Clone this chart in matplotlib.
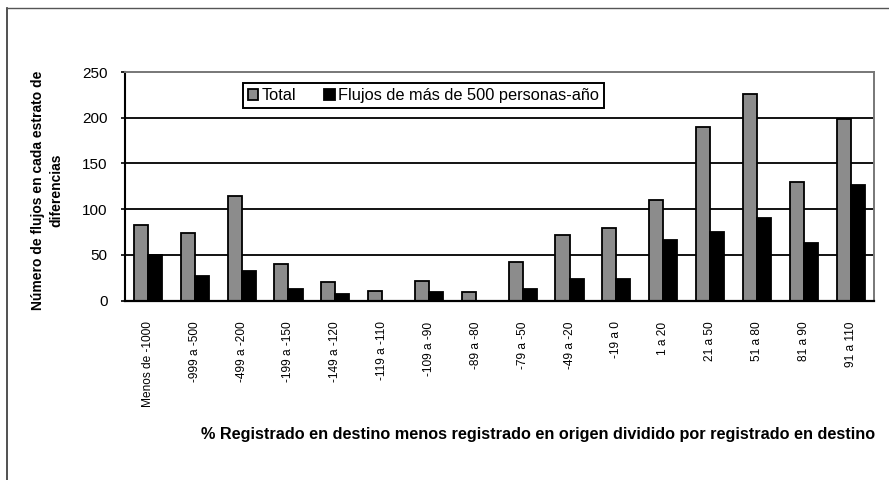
import matplotlib
matplotlib.use("Agg")
import matplotlib.pyplot as plt
from matplotlib.lines import Line2D
import numpy as np

categories = ["Menos de -1000", "-999 a -500", "-499 a -200", "-199 a -150",
              "-149 a -120", "-119 a -110", "-109 a -90", "-89 a -80",
              "-79 a -50", "-49 a -20", "-19 a 0", "1 a 20", "21 a 50",
              "51 a 80", "81 a 90", "91 a 110"]
total = [83, 74, 114, 40, 20, 11, 22, 9, 42, 72, 79, 110, 190, 226, 130, 199]
flujos500 = [50, 27, 33, 13, 7, 0, 9, 0, 13, 24, 24, 66, 75, 90, 63, 126]
yticks = [0, 50, 100, 150, 200, 250]

plt.rcParams['font.family'] = ['Liberation Sans', 'DejaVu Sans']

fig = plt.figure(figsize=(8.89, 4.80), dpi=100)
ax = fig.add_axes([124.5 / 889, 1 - 300.7 / 480, 749.5 / 889, 228.7 / 480])

x = np.arange(len(categories))
w = 0.3
ax.bar(x - w / 2, total, width=w, color="#8c8c8c", edgecolor="black",
       linewidth=1.3, zorder=3, label="Total")
ax.bar(x + w / 2, flujos500, width=w, color="black", edgecolor="black",
       linewidth=1.3, zorder=3, label="Flujos de más de 500 personas-año")

ax.set_xlim(-0.5, len(categories) - 0.5)
ax.set_ylim(0, 250)
ax.set_yticks(yticks)
for v in yticks[1:-1]:
    ax.axhline(v, color="black", linewidth=1.3, zorder=1)

ax.set_xticks(x)
ax.set_xticklabels(categories, rotation=90, fontsize=8.6, va="top", ha="center")
ax.tick_params(axis="x", length=0, pad=15)
ax.tick_params(axis="y", length=3, pad=9, labelsize=11, width=1.2)

ax.spines["left"].set_color("black")
ax.spines["left"].set_linewidth(1.5)
ax.spines["bottom"].set_color("black")
ax.spines["bottom"].set_linewidth(1.6)
ax.spines["top"].set_color("#777777")
ax.spines["top"].set_linewidth(1.4)
ax.spines["right"].set_color("#777777")
ax.spines["right"].set_linewidth(1.4)
ax.spines["bottom"].set_zorder(4)

leg = ax.legend(loc="upper left", bbox_to_anchor=(0.158, 0.951), ncol=2,
                frameon=True, fancybox=False, fontsize=11.8,
                handlelength=0.65, handleheight=0.65, handletextpad=0.2,
                columnspacing=1.7, borderpad=0.3, borderaxespad=0)
leg.get_frame().set_edgecolor("black")
leg.get_frame().set_linewidth(1.4)
leg.get_frame().set_alpha(1)

fig.text(538 / 889, 1 - 435 / 480,
         "% Registrado en destino menos registrado en origen dividido por registrado en destino",
         ha="center", va="center", fontsize=11.7, fontweight="bold")
fig.text(47 / 889, 1 - 190 / 480,
         "Número de flujos en cada estrato de\ndiferencias",
         ha="center", va="center", rotation=90, fontsize=10,
         fontweight="bold", multialignment="center", linespacing=1.4)

# outer frame lines (left and top)
fig.add_artist(Line2D([6.5 / 889, 6.5 / 889], [0, 1 - 8 / 480],
                      transform=fig.transFigure, color="#333333", linewidth=1.2))
fig.add_artist(Line2D([6.5 / 889, 1], [1 - 8 / 480, 1 - 8 / 480],
                      transform=fig.transFigure, color="#555555", linewidth=1.0))

fig.savefig("out.png", dpi=100)
